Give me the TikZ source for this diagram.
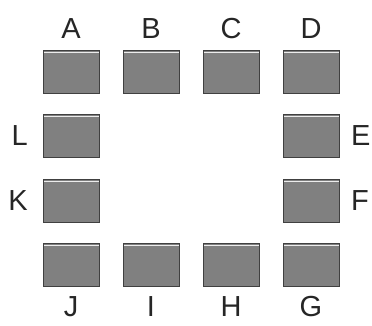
\documentclass[tikz,border=0pt]{standalone}
\usepackage{fontspec}
\setmainfont{Liberation Sans}
\usetikzlibrary{positioning}

\begin{document}
\begin{tikzpicture}[
    x=1pt, y=-1pt,
    node distance=21.5pt and 24pt,
    padBox/.style={rectangle, draw=black!75, fill=black!50, line width=1pt, outer sep=0pt, minimum width=56pt, minimum height=43pt, inner sep=0pt,
        path picture={\draw[white!85!gray, line width=1.2pt] ([yshift=-2.2pt]path picture bounding box.north west) -- ([yshift=-2.2pt]path picture bounding box.north east);}},
    padLabel/.style={font=\fontsize{29}{30}\selectfont, inner sep=0pt, text=black!85}
]
\useasboundingbox (0,0) rectangle (372,325);

% ================= TOP ROW =================
\node[padBox] (boxA) at (71,71.5) {};
\node[padBox, right=of boxA] (boxB) {};
\node[padBox, right=of boxB] (boxC) {};
\node[padBox, right=of boxC] (boxD) {};

% ================= SIDES =================
\node[padBox, below=of boxA] (boxL) {};
\node[padBox, below=of boxL] (boxK) {};
\node[padBox, below=of boxD] (boxE) {};
\node[padBox, below=of boxE] (boxF) {};

% ================= BOTTOM ROW =================
\node[padBox, below=of boxK] (boxJ) {};
\node[padBox, right=of boxJ] (boxI) {};
\node[padBox, right=of boxI] (boxH) {};
\node[padBox, right=of boxH] (boxG) {};

% ================= LABELS =================
\node[padLabel, above=11pt of boxA] (labA) {A};
\node[padLabel, above=11pt of boxB] (labB) {B};
\node[padLabel, above=11pt of boxC] (labC) {C};
\node[padLabel, above=11pt of boxD] (labD) {D};

\node[padLabel, left=15pt of boxL] (labL) {L};
\node[padLabel, left=15pt of boxK] (labK) {K};
\node[padLabel, right=12pt of boxE] (labE) {E};
\node[padLabel, right=12pt of boxF] (labF) {F};

\node[padLabel, below=10pt of boxJ] (labJ) {J};
\node[padLabel, below=10pt of boxI] (labI) {I};
\node[padLabel, below=10pt of boxH] (labH) {H};
\node[padLabel, below=10pt of boxG] (labG) {G};

\end{tikzpicture}
\end{document}
